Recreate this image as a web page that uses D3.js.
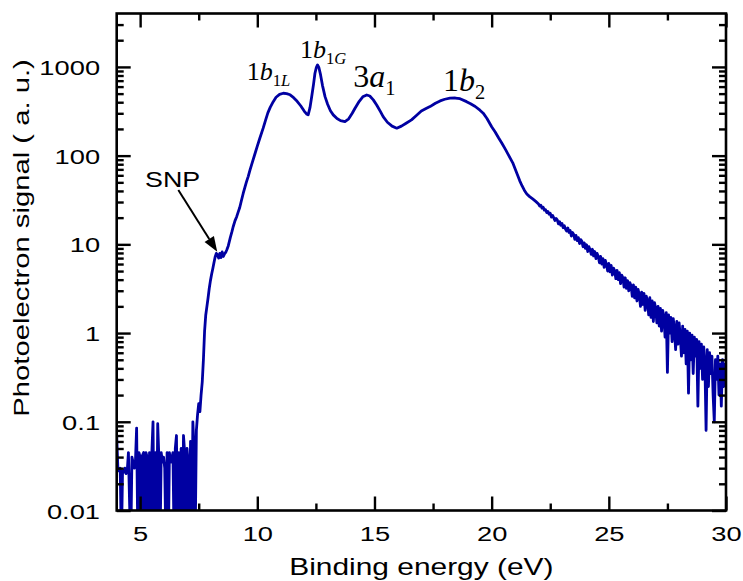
<!DOCTYPE html>
<html><head><meta charset="utf-8">
<script src="https://cdn.jsdelivr.net/npm/d3@7"></script>
<style>body{margin:0;background:#fff}svg{display:block}</style>
</head><body>
<svg id="chart" width="743" height="581"></svg>
<script>
// ---------- data ----------
const xTicks = [5, 10, 15, 20, 25, 30];
const xMinorTicks = [7.5, 12.5, 17.5, 22.5, 27.5];
const yTicks = [0.01, 0.1, 1, 10, 100, 1000];
const yTickLabels = ["0.01", "0.1", "1", "10", "100", "1000"];

// noisy background region 4.00 – 7.45 eV (0.05 eV grid)
const lowStart = 4.0, lowStep = 0.05;
const lowSignal = [0.07,0.03,0.028,0.03,0.004,0.028,0.027,0.03,0.026,0.028,
 0.045,0.012,0.004,0.04,0.035,0.03,0.036,0.085,0.005,0.045,
 0.04,0.003,0.042,0.045,0.004,0.045,0.04,0.004,0.045,0.004,
 0.045,0.1,0.003,0.045,0.005,0.095,0.04,0.004,0.045,0.035,
 0.04,0.03,0.004,0.045,0.003,0.045,0.035,0.038,0.045,0.004,
 0.05,0.07,0.003,0.045,0.005,0.05,0.004,0.07,0.045,0.004,
 0.05,0.035,0.004,0.06,0.004,0.1,0.05,0.005,0.08,0.12];

// main spectrum 7.5 – 21.9 eV
const mainEnergy = [7.50,7.55,7.60,7.65,7.70,7.75,7.80,7.85,7.90,7.95,8.00,8.05,8.10,8.15,8.20,8.25,8.30,8.35,8.40,8.45,
 8.50,8.55,8.60,8.65,8.70,8.76,8.85,8.92,8.97,9.05,9.12,9.19,9.25,9.32,9.40,9.47,9.54,9.61,9.69,9.80,
 9.90,10.00,10.10,10.25,10.35,10.45,10.55,10.68,10.80,10.95,11.11,11.25,11.40,11.55,11.70,11.85,12.00,12.10,12.17,12.25,
 12.32,12.40,12.46,12.52,12.57,12.63,12.70,12.78,12.89,13.00,13.12,13.24,13.40,13.55,13.74,13.90,14.05,14.17,14.35,14.50,
 14.67,14.80,14.95,15.10,15.25,15.37,15.55,15.75,15.95,16.15,16.35,16.58,16.80,17.00,17.20,17.37,17.60,17.80,18.00,18.22,
 18.45,18.65,18.93,19.10,19.30,19.50,19.64,19.80,20.00,20.15,20.30,20.45,20.60,20.75,20.90,21.00,21.10,21.20,21.30,21.40,
 21.50,21.62,21.75,21.88];
const mainSignal = [0.16,0.13,0.2,0.28,0.5,1.05,1.6,2.0,2.5,3.2,3.9,4.6,5.3,6.2,7.2,7.9,7.6,7.0,7.9,7.1,
 8.2,7.3,7.8,8.1,8.7,9.6,12,14,15.8,18.5,20.5,23.4,26,31,37.7,44,51,58,69,86,
 105,128,155,204,250,303,350,406,455,490,505,500,485,450,410,365,318,295,288,350,
 462,640,849,990,1054,980,813,620,462,380,320,288,262,248,242,260,300,342,410,460,
 483,470,425,370,315,275,238,215,204,215,232,253,285,319,340,357,390,414,432,444,
 446,438,406,385,358,325,301,262,212,185,158,136,116,98,83,71,61,52,45.5,40.5,
 37,34.5,32.5,30.5];

// noisy tail 22.00 – 30.00 eV (0.05 eV grid)
const tailStart = 22.0, tailStep = 0.05;
const tailSignal = [28.5,27.0,27.6,25.6,26.2,24.3,24.6,22.8,23.5,21.9,
 22.4,20.3,21.2,19.9,18.6,19.6,18.9,17.0,18.0,16.4,
 17.2,15.4,16.2,14.9,14.1,15.3,13.6,14.3,12.4,13.6,
 12.9,11.4,12.6,11.0,11.9,10.2,11.3,10.8,9.4,10.4,
 9.0,9.9,8.3,9.4,8.7,7.7,8.8,7.4,8.3,6.9,
 7.9,7.3,6.2,7.3,6.0,6.9,5.5,6.6,5.9,5.0,
 6.1,4.9,5.8,4.5,5.4,5.0,4.1,5.1,4.0,4.8,
 3.6,4.5,4.2,3.3,4.2,3.2,3.9,3.0,3.7,3.4,
 2.6,3.5,2.5,3.3,2.3,3.1,2.7,2.0,2.9,2.1,
 2.8,1.8,2.6,2.3,1.6,2.5,1.5,2.3,1.35,2.2,
 1.9,1.3,2.0,1.2,1.9,1.05,1.8,1.5,0.9,1.7,
 0.36,1.6,1.0,1.5,0.8,1.45,1.1,0.65,1.35,0.75,
 1.3,0.9,0.55,1.2,0.6,1.1,0.45,1.05,0.21,1.0,
 0.5,0.95,0.35,0.9,0.55,0.85,0.15,0.8,0.4,0.75,
 0.3,0.7,0.45,0.08,0.65,0.25,0.6,0.35,0.55,0.2,
 0.1,0.5,0.3,0.55,0.2,0.45,0.15,0.5,0.25,0.45,
 0.3];

// ---------- layout ----------
const svg = d3.select("#chart");
const m = {left: 116.7, right: 726, top: 13.5, bottom: 510.5};
const x = d3.scaleLinear().domain([4, 30]).range([m.left, m.right]);
const y = d3.scaleLog().domain([0.01, 4000]).range([m.bottom, m.top]);
const SANS = "'Liberation Sans', Arial, sans-serif";
const SERIF = "'Liberation Serif', 'Times New Roman', serif";
const STRETCH = 1.3;
const BLUE = "#0000a2";

const pts = [];
lowSignal.forEach((v, i) => pts.push([lowStart + i * lowStep, v]));
mainEnergy.forEach((e, i) => pts.push([e, mainSignal[i]]));
tailSignal.forEach((v, i) => pts.push([tailStart + i * tailStep, v]));

svg.append("defs").append("clipPath").attr("id", "clip")
  .append("rect").attr("x", m.left).attr("y", m.top)
  .attr("width", m.right - m.left).attr("height", m.bottom - m.top);

svg.append("path")
  .datum(pts)
  .attr("clip-path", "url(#clip)")
  .attr("fill", "none")
  .attr("stroke", BLUE)
  .attr("stroke-width", 2.8)
  .attr("stroke-linejoin", "round")
  .attr("d", d3.line().x(d => x(d[0])).y(d => y(d[1])).curve(d3.curveLinear));

// minor y ticks
const yMinor = [];
[0.01, 0.1, 1, 10, 100, 1000].forEach(d => { for (let k = 2; k <= 9; k++) if (d * k < 4000) yMinor.push(d * k); });

function styleAxis(g) {
  g.select(".domain").remove();
  g.selectAll(".tick line").attr("stroke", "#000").attr("stroke-width", 2.4);
}
// bottom
svg.append("g").attr("transform", `translate(0,${m.bottom})`)
  .call(d3.axisBottom(x).tickValues(xTicks).tickSize(-14).tickSizeOuter(0).tickPadding(16).tickFormat(d3.format("d")))
  .call(styleAxis)
  .call(g => g.selectAll(".tick text").attr("font-family", SANS).attr("font-size", 21).attr("fill", "#000")
      .attr("transform", `scale(${STRETCH},1)`));
svg.append("g").attr("transform", `translate(0,${m.bottom})`)
  .call(d3.axisBottom(x).tickValues(xMinorTicks).tickSize(-7).tickFormat(""))
  .call(styleAxis);
// top
svg.append("g").attr("transform", `translate(0,${m.top})`)
  .call(d3.axisTop(x).tickValues(xTicks).tickSize(-14).tickFormat(""))
  .call(styleAxis);
svg.append("g").attr("transform", `translate(0,${m.top})`)
  .call(d3.axisTop(x).tickValues(xMinorTicks).tickSize(-7).tickFormat(""))
  .call(styleAxis);
// left
svg.append("g").attr("transform", `translate(${m.left},0)`)
  .call(d3.axisLeft(y).tickValues(yTicks).tickSize(-14).tickPadding(12.8).tickFormat((d, i) => yTickLabels[i]))
  .call(styleAxis)
  .call(g => g.selectAll(".tick text").attr("font-family", SANS).attr("font-size", 21).attr("fill", "#000")
      .attr("dy", "0.36em").attr("transform", `scale(${STRETCH},1)`));
svg.append("g").attr("transform", `translate(${m.left},0)`)
  .call(d3.axisLeft(y).tickValues(yMinor).tickSize(-7).tickFormat(""))
  .call(styleAxis);
// right
svg.append("g").attr("transform", `translate(${m.right},0)`)
  .call(d3.axisRight(y).tickValues(yTicks).tickSize(-14).tickFormat(""))
  .call(styleAxis);
svg.append("g").attr("transform", `translate(${m.right},0)`)
  .call(d3.axisRight(y).tickValues(yMinor).tickSize(-7).tickFormat(""))
  .call(styleAxis);

// frame
svg.append("rect").attr("x", m.left).attr("y", m.top)
  .attr("width", m.right - m.left).attr("height", m.bottom - m.top)
  .attr("fill", "none").attr("stroke", "#000").attr("stroke-width", 2.6);

// axis titles
svg.append("text")
  .attr("transform", `translate(${(m.left + m.right) / 2},575) scale(${STRETCH},1)`)
  .attr("text-anchor", "middle").attr("font-family", SANS).attr("font-size", 23)
  .text("Binding energy (eV)");
svg.append("text")
  .attr("transform", `translate(29,238) rotate(-90) scale(${STRETCH},1)`)
  .attr("text-anchor", "middle").attr("font-family", SANS).attr("font-size", 22.5)
  .text("Photoelectron signal ( a. u.)");

// peak annotations (positions in data coordinates)
const peaks = [
  {e: 9.55, v: 713, size: 26, parts: [["1","normal",0],["b","italic",0],["1","normal",1],["L","italic",1]]},
  {e: 11.82, v: 1274, size: 26, parts: [["1","normal",0],["b","italic",0],["1","normal",1],["G","italic",1]]},
  {e: 14.09, v: 600, size: 32, parts: [["3","normal",0],["a","italic",0],["1","normal",1]]},
  {e: 17.92, v: 536, size: 32, parts: [["1","normal",0],["b","italic",0],["2","normal",1]]}
];
peaks.forEach(p => {
  const t = svg.append("text").attr("x", x(p.e)).attr("y", y(p.v))
    .attr("font-family", SERIF).attr("font-size", p.size).attr("fill", "#000");
  let prevSub = 0;
  p.parts.forEach(([s, style, sub]) => {
    const ts = t.append("tspan").attr("font-style", style).text(s);
    if (sub) ts.attr("font-size", p.size * 0.64);
    if (sub !== prevSub) ts.attr("dy", sub ? p.size * 0.25 : -p.size * 0.25);
    prevSub = sub;
  });
});

// SNP label and arrow
svg.append("text").attr("transform", `translate(${x(5.21)},${y(44)}) scale(1.22,1)`)
  .attr("font-family", SANS).attr("font-size", 22).text("SNP");
const a0 = [x(6.63), y(41)], a1 = [x(8.29), y(8.27)];
const ang = Math.atan2(a1[1] - a0[1], a1[0] - a0[0]);
const hl = 15, hw = 5.5;
const base = [a1[0] - hl * Math.cos(ang), a1[1] - hl * Math.sin(ang)];
svg.append("line").attr("x1", a0[0]).attr("y1", a0[1]).attr("x2", base[0]).attr("y2", base[1])
  .attr("stroke", "#000").attr("stroke-width", 2);
svg.append("polygon")
  .attr("points", [a1,
    [base[0] + hw * Math.sin(ang), base[1] - hw * Math.cos(ang)],
    [base[0] - hw * Math.sin(ang), base[1] + hw * Math.cos(ang)]].map(p => p.join(",")).join(" "))
  .attr("fill", "#000");
</script>
</body></html>
